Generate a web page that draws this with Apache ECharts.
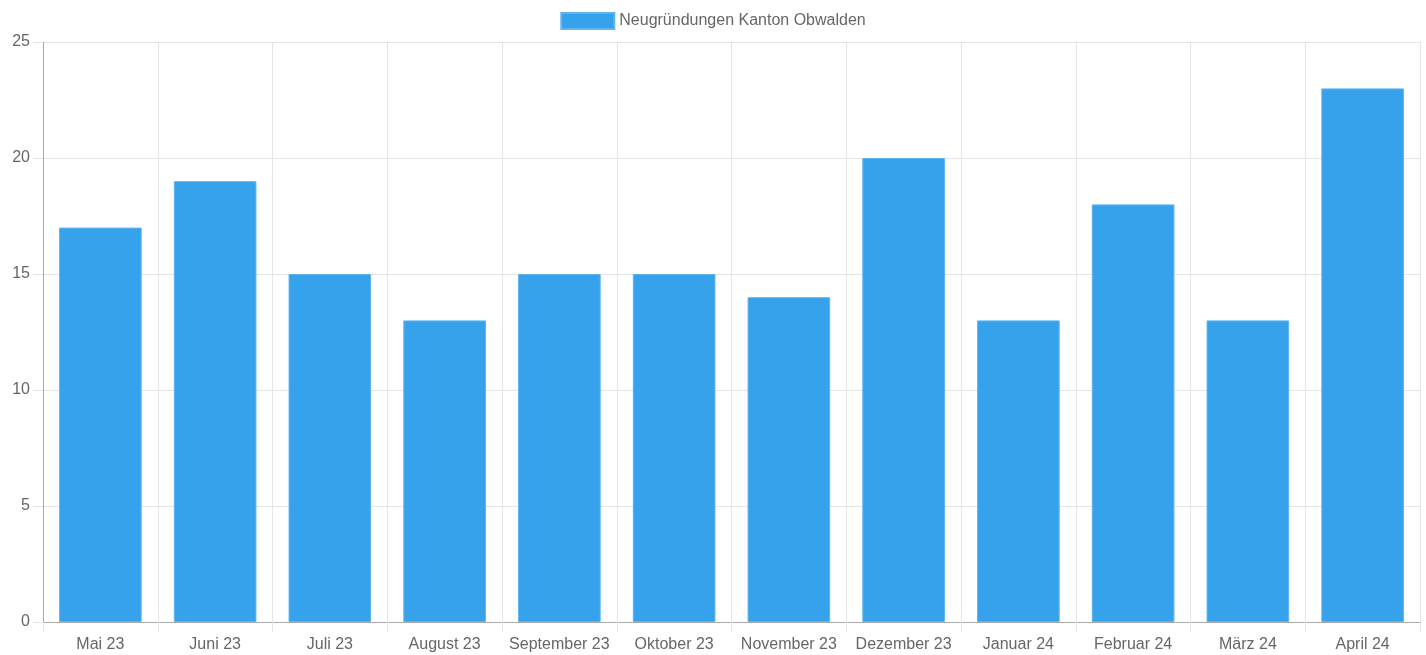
<!DOCTYPE html>
<html><head><meta charset="utf-8">
<script src="https://cdn.jsdelivr.net/npm/echarts@6/dist/echarts.min.js"></script>
<style>html,body{margin:0;padding:0;background:#fff}#c{width:1426px;height:655px}</style>
</head><body><div id="c"></div>
<script>
const categories = ["Mai 23","Juni 23","Juli 23","August 23","September 23","Oktober 23","November 23","Dezember 23","Januar 24","Februar 24","März 24","April 24"];
const values = [17,19,15,13,15,15,14,20,13,18,13,23];
const seriesName = "Neugründungen Kanton Obwalden";
const FONT = "'Liberation Sans', Arial, sans-serif";
const chart = echarts.init(document.getElementById('c'));
chart.setOption({
  animation:false,
  textStyle:{fontFamily:FONT},
  legend:{top:7,left:'center',itemWidth:53,itemHeight:16,itemGap:10,
    textStyle:{fontSize:16,color:'#666',fontFamily:FONT},
    icon:'rect', data:[seriesName]},
  grid:{left:43,right:6,top:42,bottom:33,containLabel:false},
  xAxis:{type:'category',data:categories,boundaryGap:true,
    axisLine:{lineStyle:{color:'#aaa'}},
    axisTick:{show:true,length:10,interval:0,lineStyle:{color:'#e5e5e5'}},
    splitLine:{show:true,interval:0,lineStyle:{color:'#e5e5e5'}},
    axisLabel:{color:'#666',fontSize:16,margin:15,interval:0,fontFamily:FONT}},
  yAxis:{type:'value',min:0,max:25,interval:5,
    axisLine:{show:true,lineStyle:{color:'#aaa'}},
    axisTick:{show:true,length:10,lineStyle:{color:'#e5e5e5'}},
    splitLine:{show:true,lineStyle:{color:'#e5e5e5'}},
    axisLabel:{color:'#666',fontSize:16,margin:13,fontFamily:FONT}},
  series:[{name:seriesName,type:'bar',data:values,barWidth:'72%',
    itemStyle:{color:'#36A2EB',borderColor:'#5db4f0',borderWidth:1}}]
});
</script></body></html>
